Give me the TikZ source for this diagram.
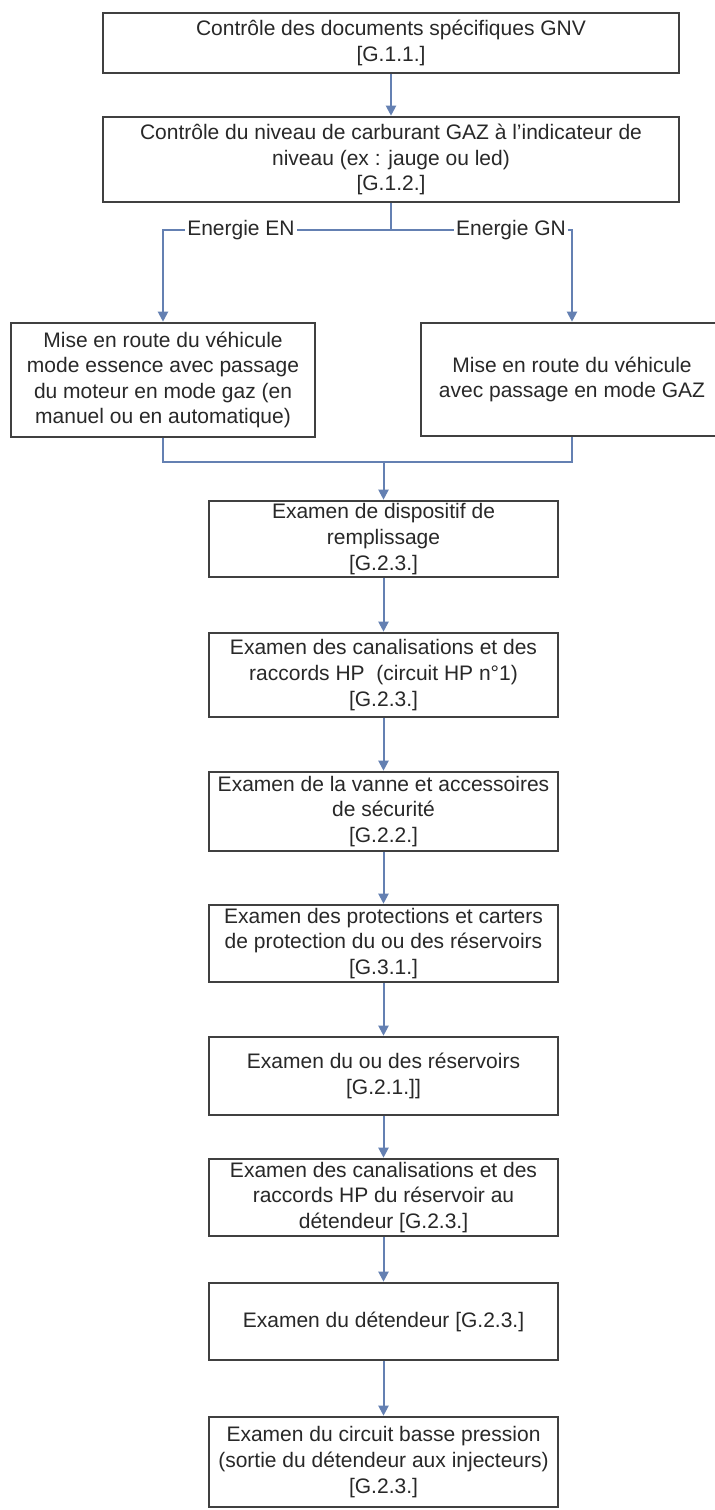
\documentclass[tikz,border=0pt]{standalone}
\usepackage{fontspec}
\setmainfont{Liberation Sans}
\usetikzlibrary{arrows.meta}
\definecolor{conn}{RGB}{100,128,178}
\definecolor{boxline}{RGB}{64,64,64}
\definecolor{txt}{RGB}{40,40,40}
\tikzset{
  stepbox/.style={draw=boxline, line width=1.3pt, fill=white, inner sep=0pt, align=center,
    text=txt, font=\fontsize{10.5}{12.8}\selectfont},
  colbox/.style={stepbox, minimum width=174.5pt},
  conline/.style={draw=conn, line width=1pt},
  arr/.style={conline, -{Triangle[length=5pt,width=5pt]}},
  lbl/.style={fill=white, inner sep=1pt, text=txt, font=\fontsize{10.5}{12.8}\selectfont}
}
\begin{document}
\begin{tikzpicture}[x=0.5pt,y=-0.5pt]
\useasboundingbox (0,0) rectangle (714,1510);
\fill[white] (0,0) rectangle (714,1510);

\node[stepbox, minimum width=288pt, minimum height=30pt] (b1) at (391,43)
  {Contrôle des documents spécifiques GNV\\{[}G.1.1.]};
\node[stepbox, minimum width=288pt, minimum height=42.5pt] (b2) at (391,159.5)
  {Contrôle du niveau de carburant GAZ à l’indicateur de\\niveau (ex : jauge ou led)\\{[}G.1.2.]};
\node[stepbox, minimum width=152pt, minimum height=57pt] (bl) at (163,380)
  {Mise en route du véhicule\\mode essence avec passage\\du moteur en mode gaz (en\\manuel ou en automatique)};
\node[stepbox, minimum width=151pt, minimum height=56.5pt] (br) at (572,379.5)
  {Mise en route du véhicule\\avec passage en mode GAZ};

\node[colbox, minimum height=38pt] (bA) at (383.5,539)
  {Examen de dispositif de\\remplissage\\{[}G.2.3.]};
\node[colbox, minimum height=42pt] (bB) at (383.5,675)
  {Examen des canalisations et des\\raccords HP\ \ (circuit HP n°1)\\{[}G.2.3.]};
\node[colbox, minimum height=39.5pt] (bC) at (383.5,811.5)
  {Examen de la vanne et accessoires\\de sécurité\\{[}G.2.2.]};
\node[colbox, minimum height=38.5pt] (bD) at (383.5,943.5)
  {Examen des protections et carters\\de protection du ou des réservoirs\\{[}G.3.1.]};
\node[colbox, minimum height=39pt] (bE) at (383.5,1076)
  {Examen du ou des réservoirs\\{[}G.2.1.]]};
\node[colbox, minimum height=38.5pt] (bF) at (383.5,1197.5)
  {Examen des canalisations et des\\raccords HP du réservoir au\\détendeur [G.2.3.]};
\node[colbox, minimum height=38.5pt] (bG) at (383.5,1321.5)
  {Examen du détendeur [G.2.3.]};
\node[colbox, minimum height=45pt] (bH) at (383.5,1462)
  {Examen du circuit basse pression\\(sortie du détendeur aux injecteurs)\\{[}G.2.3.]};

\coordinate (j1) at (391,230);
\coordinate (cl) at (163,230);
\coordinate (cr) at (572,230);
\coordinate (m1) at (163,462);
\coordinate (m2) at (572,462);
\coordinate (j2) at (383.5,462);

\draw[arr] (b1.south) -- (b2.north);
\draw[conline] (b2.south) -- (j1);
\draw[arr] (j1) -- (cl) -- (bl.north);
\draw[arr] (j1) -- (cr) -- (br.north);
\node[lbl] (lEN) at (241,230) {Energie EN};
\node[lbl] (lGN) at (511,230) {Energie GN};

\draw[conline] (bl.south) -- (m1) -- (m2) -- (br.south);
\draw[arr] (j2) -- (bA.north);
\draw[arr] (bA.south) -- (bB.north);
\draw[arr] (bB.south) -- (bC.north);
\draw[arr] (bC.south) -- (bD.north);
\draw[arr] (bD.south) -- (bE.north);
\draw[arr] (bE.south) -- (bF.north);
\draw[arr] (bF.south) -- (bG.north);
\draw[arr] (bG.south) -- (bH.north);
\end{tikzpicture}
\end{document}
